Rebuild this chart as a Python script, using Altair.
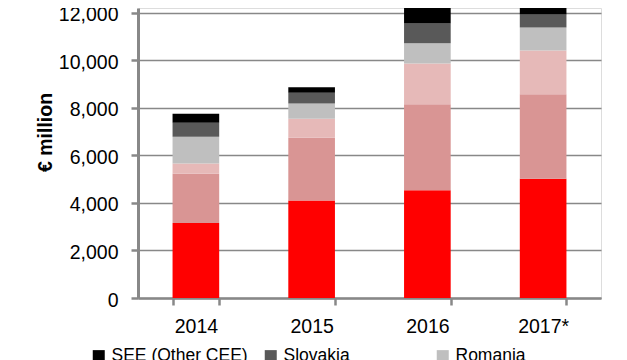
import altair as alt
import pandas as pd

years = ["2014", "2015", "2016", "2017*"]
series = ["Poland", "Czech Republic", "Hungary", "Romania", "Slovakia", "SEE (Other CEE)"]
poland = [3160, 4100, 4535, 5015]
czech = [2065, 2640, 3615, 3560]
hungary = [435, 800, 1715, 1835]
romania = [1120, 640, 855, 970]
slovakia = [590, 450, 830, 550]
see = [380, 240, 1100, 700]

legend_order = ["SEE (Other CEE)", "Slovakia", "Romania", "Hungary", "Czech Republic", "Poland"]
colors = ["#000000", "#595959", "#BFBFBF", "#E6B9B8", "#D99594", "#FF0000"]
y_ticks = [0, 2000, 4000, 6000, 8000, 10000, 12000]

values = [poland, czech, hungary, romania, slovakia, see]
rows = []
for si, (name, vals) in enumerate(zip(series, values)):
    for yi, yr in enumerate(years):
        rows.append({"year": yr, "series": name, "value": vals[yi], "order": si})
df = pd.DataFrame(rows)

FONT = "Liberation Sans, Arial"

chart = alt.Chart(df).mark_bar(clip=True).encode(
    x=alt.X("year:N", sort=years,
            scale=alt.Scale(paddingInner=0.597, paddingOuter=0.2985),
            axis=alt.Axis(title=None, labelAngle=0, labelFont=FONT, labelFontSize=19.5,
                          labelColor="#000000", labelPadding=12,
                          domainColor="#888888", domainWidth=2.5,
                          tickColor="#888888", tickWidth=2.5, tickSize=7,
                          tickBand="extent", grid=False)),
    y=alt.Y("value:Q", stack="zero",
            scale=alt.Scale(domain=[0, 12200], nice=False, zero=True),
            axis=alt.Axis(values=y_ticks, format=",d", title="€ million",
                          labelFont=FONT, labelFontSize=19.5, labelColor="#000000",
                          labelPadding=13, labelOffset=2, tickSize=7, tickColor="#888888",
                          tickWidth=2.5, domainColor="#888888", domainWidth=3,
                          grid=True, gridColor="#888888", gridWidth=1.5,
                          titleFont=FONT, titleFontSize=19.5, titleFontWeight="bold",
                          titleColor="#000000", titleX=-93, titleY=124, titleAngle=270,
                          titleAlign="center", titleBaseline="middle")),
    color=alt.Color("series:N",
                    scale=alt.Scale(domain=legend_order, range=colors),
                    legend=alt.Legend(title=None, orient="none", legendX=-48, legendY=339,
                                      direction="horizontal",
                                      columns=3, gridAlign="all", columnPadding=14,
                                      symbolType="square", symbolSize=144,
                                      symbolStrokeWidth=0, symbolOpacity=1,
                                      labelFont=FONT, labelFontSize=17.5,
                                      labelColor="#000000", labelOffset=4, labelLimit=400,
                                      rowPadding=6)),
    order=alt.Order("order:Q", sort="ascending"),
).properties(
    width=463, height=290,
    autosize=alt.AutoSizeParams(type="none"),
    padding={"left": 130, "top": 0, "right": 18, "bottom": 120},
).configure_view(strokeWidth=0).configure(background="#ffffff")

chart.save("out.html", embed_options={"renderer": "svg", "actions": False})
